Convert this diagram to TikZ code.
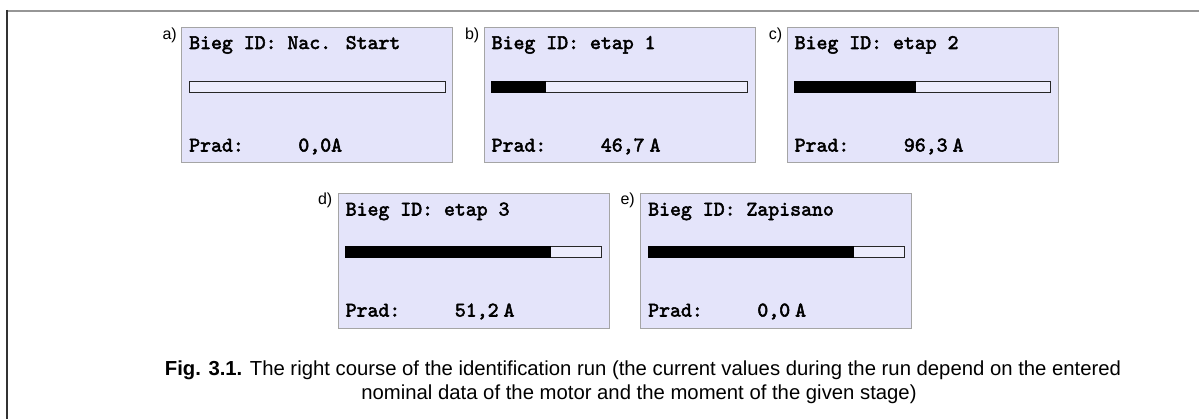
\documentclass[tikz,border=0pt]{standalone}
\usepackage{fontspec}
\setmainfont{Liberation Sans}
\newfontfamily\lcdfont{lmmono10-regular.otf}[FakeBold=2.5]
\usepackage{tikz}

\definecolor{lcdback}{RGB}{228,228,250}
\definecolor{lcdbar}{RGB}{236,236,252}
\definecolor{lcdframe}{RGB}{165,165,165}
\definecolor{figline}{RGB}{150,150,150}

\begin{document}
\begin{tikzpicture}[x=1pt,y=-1pt]
                \useasboundingbox (0,0) rectangle (1199,419);
                \draw[figline, line width=2pt] (6,11) -- (1199,11);
                \draw[black!80, line width=2pt] (7,10) -- (7,419);
                \begin{scope}[every node/.style={draw=lcdframe, fill=lcdback, line width=1pt, minimum width=271pt, minimum height=135pt, inner sep=0}]
                        \node (A) at (317,95.5) {};
                        \node (B) at (619.5,95.5) {};
                        \node (C) at (922.5,95.5) {};
                        \node (D) at (473.5,261.5) {};
                        \node (E) at (776,261.5) {};
                \end{scope}
                \begin{scope}[every node/.style={draw=black!85, fill=lcdbar, line width=1pt, minimum width=256pt, minimum height=11pt, inner sep=0}]
                        \node (Abar) at ([yshift=-59.5pt]A.north) {};
                        \node (Bbar) at ([yshift=-59.5pt]B.north) {};
                        \node (Cbar) at ([yshift=-59.5pt]C.north) {};
                        \node (Dbar) at ([yshift=-59pt]D.north) {};
                        \node (Ebar) at ([yshift=-59pt]E.north) {};
                \end{scope}
                \begin{scope}[every node/.style={fill=black, anchor=west, minimum height=12pt, inner sep=0}]
                        \node[minimum width=55pt] (Bfill) at (Bbar.west) {};
                        \node[minimum width=122pt] (Cfill) at (Cbar.west) {};
                        \node[minimum width=206pt] (Dfill) at (Dbar.west) {};
                        \node[minimum width=206pt] (Efill) at (Ebar.west) {};
                \end{scope}
                \begin{scope}[every node/.style={anchor=base west, inner sep=0, font=\lcdfont\fontsize{20.8}{22}\selectfont}]
                        \node (Atitle) at ([xshift=8pt,yshift=-21.5pt]A.north west) {Bieg ID: Nac. Start};
                        \node (Btitle) at ([xshift=8pt,yshift=-21.5pt]B.north west) {Bieg ID: etap 1};
                        \node (Ctitle) at ([xshift=8pt,yshift=-21.5pt]C.north west) {Bieg ID: etap 2};
                        \node (Dtitle) at ([xshift=8pt,yshift=-22pt]D.north west) {Bieg ID: etap 3};
                        \node (Etitle) at ([xshift=8pt,yshift=-22pt]E.north west) {Bieg ID: Zapisano};

                        \node (Aval) at ([xshift=8pt,yshift=12pt]A.south west) {Prad:~~~~~0,0A};
                        \node (Bval) at ([xshift=8pt,yshift=12pt]B.south west) {Prad:~~~~~46,7\kern.24em A};
                        \node (Cval) at ([xshift=8pt,yshift=12pt]C.south west) {Prad:~~~~~96,3\kern.24em A};
                        \node (Dval) at ([xshift=8pt,yshift=13pt]D.south west) {Prad:~~~~~51,2\kern.24em A};
                        \node (Eval) at ([xshift=8pt,yshift=13pt]E.south west) {Prad:~~~~~0,0\kern.24em A};
                \end{scope}
                \begin{scope}[every node/.style={anchor=base east, inner sep=0, font=\fontsize{16}{18}\selectfont}]
                        \node (Atag) at ([xshift=-4pt,yshift=-12pt]A.north west) {a)};
                        \node (Btag) at ([xshift=-4pt,yshift=-12pt]B.north west) {b)};
                        \node (Ctag) at ([xshift=-4pt,yshift=-12pt]C.north west) {c)};
                        \node (Dtag) at ([xshift=-5pt,yshift=-11pt]D.north west) {d)};
                        \node (Etag) at ([xshift=-5pt,yshift=-11pt]E.north west) {e)};
                \end{scope}
                \begin{scope}[every node/.style={anchor=base, inner sep=0, font=\fontsize{20.3}{24}\selectfont}]
                        \node (capA) at (643,375.5) {\textbf{Fig. 3.1.} The right course of the identification run (the current values during the run depend on the entered};
                        \node (capB) at (639,399.5) {nominal data of the motor and the moment of the given stage)};
                \end{scope}
        \end{tikzpicture}
\end{document}
